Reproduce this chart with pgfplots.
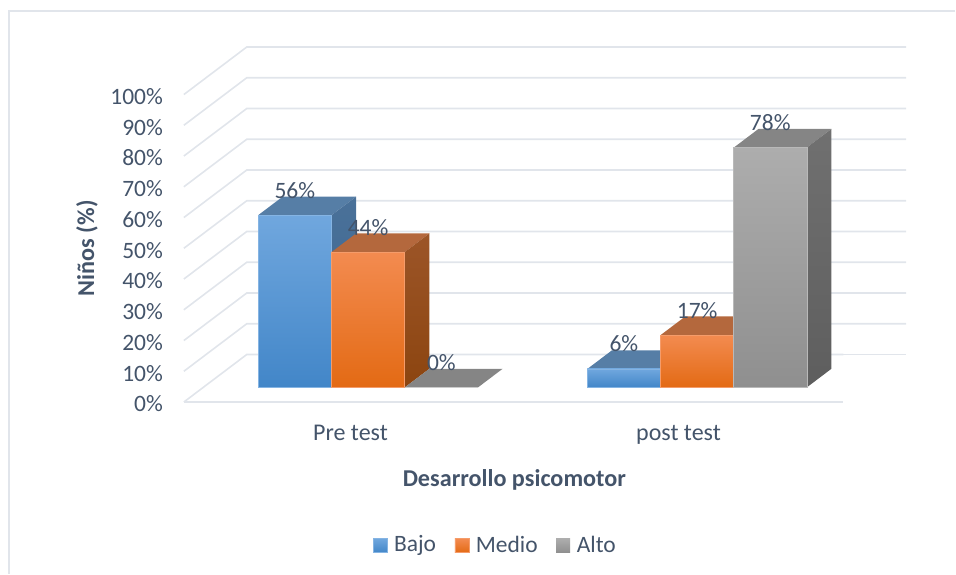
\documentclass[border=0pt]{standalone}
\usepackage{pgfplots}
\pgfplotsset{compat=1.18}
\usepackage{fontspec}
\setmainfont{Carlito}
\definecolor{txt}{HTML}{44546A}
\definecolor{gridc}{HTML}{E1E5EB}
\definecolor{blueT}{HTML}{70A7DE}
\definecolor{blueB}{HTML}{4286C8}
\definecolor{blueTop}{HTML}{567EA6}
\definecolor{blueSideT}{HTML}{4A7199}
\definecolor{blueSideB}{HTML}{3A6590}
\definecolor{orT}{HTML}{F38B50}
\definecolor{orM}{HTML}{F77E2A}
\definecolor{orB}{HTML}{E36A14}
\definecolor{orTop}{HTML}{B4683D}
\definecolor{orSideT}{HTML}{9C5528}
\definecolor{orSideB}{HTML}{8C4510}
\definecolor{grT}{HTML}{ADADAD}
\definecolor{grB}{HTML}{8F8F8F}
\definecolor{grTop}{HTML}{858585}
\definecolor{grSideT}{HTML}{707070}
\definecolor{grSideB}{HTML}{5E5E5E}
\begin{document}
\begin{tikzpicture}[x=1pt,y=1pt]
\fontsize{23.5}{27}\selectfont
% axis holding the value scale, the grid and the labels
\begin{axis}[
  at={(184pt,171.7pt)}, anchor=south west,
  scale only axis, width=660pt, height=307.7pt,
  xmin=0, xmax=660, ymin=0, ymax=100, clip=false,
  axis line style={draw=none}, tick style={draw=none},
  ytick={0,10,...,100},
  yticklabels={0\%,10\%,20\%,30\%,40\%,50\%,60\%,70\%,80\%,90\%,100\%},
  yticklabel style={font=\fontsize{23.5}{27}\selectfont, text=txt, anchor=east, xshift=-13pt, yshift=-2pt},
  xtick={166.7,495},
  xticklabels={Pre test,post test},
  xticklabel style={font=\fontsize{24}{28}\selectfont, text=txt, anchor=base, yshift=-39pt},
  xlabel={\bfseries Desarrollo psicomotor},
  xlabel style={font=\fontsize{24.2}{28}\selectfont, text=txt, at={(axis description cs:0.501,0)}, anchor=center, yshift=-77.5pt},
  ylabel={\bfseries Niños (\%)},
  ylabel style={font=\fontsize{24.2}{28}\selectfont, text=txt, at={(axis description cs:0,0.5)}, anchor=center, yshift=97pt},
]
\pgfplotsset{grid line/.style={draw=gridc, line width=1.6pt, forget plot}}
\addplot[grid line] coordinates {(0,0)(63,15.47)(660,15.47)};
\addplot[grid line] coordinates {(0,0)(660,0)};
\addplot[grid line] coordinates {(0,10)(63,25.47)(722.7,25.47)};
\addplot[grid line] coordinates {(0,20)(63,35.47)(722.7,35.47)};
\addplot[grid line] coordinates {(0,30)(63,45.47)(722.7,45.47)};
\addplot[grid line] coordinates {(0,40)(63,55.47)(722.7,55.47)};
\addplot[grid line] coordinates {(0,50)(63,65.47)(722.7,65.47)};
\addplot[grid line] coordinates {(0,60)(63,75.47)(722.7,75.47)};
\addplot[grid line] coordinates {(0,70)(63,85.47)(722.7,85.47)};
\addplot[grid line] coordinates {(0,80)(63,95.47)(722.7,95.47)};
\addplot[grid line] coordinates {(0,90)(63,105.47)(722.7,105.47)};
\addplot[grid line] coordinates {(0,100)(63,115.47)(722.7,115.47)};
\addplot[grid line] coordinates {(63,15.47)(722.7,15.47)};
\end{axis}
% axis holding the bars: x in picture units, y in percent above the bar base
\begin{axis}[
  at={(0pt,0pt)}, anchor=south west,
  scale only axis, width=956pt, height=574pt,
  xmin=0, xmax=956, ymin=-60.55, ymax=126.0, clip=false,
  axis line style={draw=none}, xtick=\empty, ytick=\empty,
  legend columns=3,
  legend cell align=left,
  legend style={draw=none, fill=none, at={(494.7pt,28pt)}, anchor=center,
    font=\fontsize{23.5}{27}\selectfont, text=txt, inner sep=0pt,
    nodes={inner sep=0pt},
    /tikz/every even column/.style={column sep=18.5pt}},
  front/.style={ybar, bar width=73.3pt, bar shift=0pt, line width=0.5pt,
    nodes near coords={\pgfmathprintnumber[assume math mode=true]{\pgfplotspointmeta}\%},
    every node near coord/.append style={anchor=center, yshift=25pt, font=\fontsize{23.5}{27}\selectfont, text=txt, draw=none}},
]
\addplot[draw=gridc, line width=1.3pt, forget plot] coordinates {(9,-60.55)(9,122.4)(956,122.4)};
% Bajo
\addplot[fill=blueTop, draw=none, forget plot] coordinates {(258.3,56)(331.7,56)(356.4,62.07)(283,62.07)} -- cycle;
\addplot[top color=blueSideT, bottom color=blueSideB, draw=none, forget plot] coordinates {(331.7,0)(356.4,6.07)(356.4,62.07)(331.7,56)} -- cycle;
\addplot[fill=blueTop, draw=none, forget plot] coordinates {(587.7,6)(661,6)(685.7,12.07)(612.4,12.07)} -- cycle;
\addplot[front, draw=blueT!85!white, top color=blueT, bottom color=blueB,
  legend image code/.code={\shade[top color=blueT,bottom color=blueB] (0pt,-7pt) rectangle (14pt,7pt); \path (20.7pt,0pt);}]
  coordinates {(295,56)};
\addlegendentry{Bajo}
\addplot[front, forget plot, draw=blueT!85!white, top color=blueT, bottom color=blueB] coordinates {(624.35,6)};
% Medio
\addplot[fill=orTop, draw=none, forget plot] coordinates {(331.7,44)(405,44)(429.7,50.07)(356.4,50.07)} -- cycle;
\addplot[top color=orSideT, bottom color=orSideB, draw=none, forget plot] coordinates {(405,0)(429.7,6.07)(429.7,50.07)(405,44)} -- cycle;
\addplot[fill=orTop, draw=none, forget plot] coordinates {(661,17)(734.3,17)(759,23.07)(685.7,23.07)} -- cycle;
\addplot[front, draw=orT!85!white, top color=orT, middle color=orM, bottom color=orB,
  legend image code/.code={\shade[top color=orT,middle color=orM,bottom color=orB] (0pt,-7pt) rectangle (14pt,7pt); \path (20.7pt,0pt);}]
  coordinates {(368.35,44)};
\addlegendentry{Medio}
\addplot[front, forget plot, draw=orT!85!white, top color=orT, middle color=orM, bottom color=orB] coordinates {(697.65,17)};
% Alto
\addplot[fill=grTop, draw=none, forget plot] coordinates {(405,0)(478.3,0)(503,6.07)(429.7,6.07)} -- cycle;
\addplot[fill=grTop, draw=none, forget plot] coordinates {(734.3,78)(807.3,78)(832,84.07)(759,84.07)} -- cycle;
\addplot[top color=grSideT, bottom color=grSideB, draw=none, forget plot] coordinates {(807.3,0)(832,6.07)(832,84.07)(807.3,78)} -- cycle;
\addplot[front, draw=none, fill=grB,
  legend image code/.code={\shade[top color=grT,bottom color=grB] (0pt,-7pt) rectangle (14pt,7pt); \path (20.7pt,0pt);}]
  coordinates {(441.65,0)};
\addlegendentry{Alto}
\addplot[front, forget plot, draw=grT!85!white, top color=grT, bottom color=grB] coordinates {(770.8,78)};
\end{axis}
\end{tikzpicture}
\end{document}
